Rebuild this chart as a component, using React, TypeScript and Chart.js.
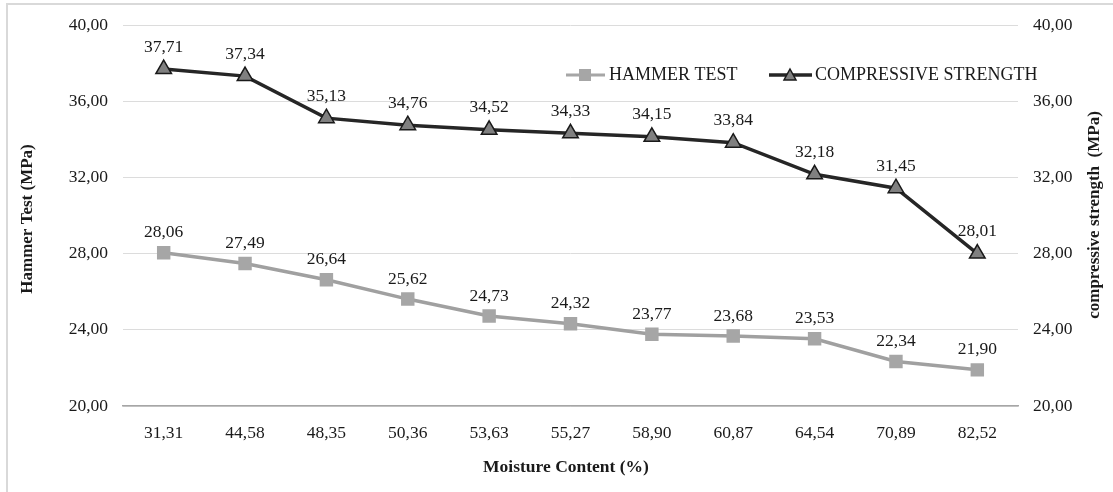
import React, { useEffect, useRef } from "react";
import { Chart, registerables } from "chart.js";

Chart.register(...registerables);

const categories = ["31,31", "44,58", "48,35", "50,36", "53,63", "55,27", "58,90", "60,87", "64,54", "70,89", "82,52"];
const hammerTest = [28.06, 27.49, 26.64, 25.62, 24.73, 24.32, 23.77, 23.68, 23.53, 22.34, 21.9];
const compressiveStrength = [37.71, 37.34, 35.13, 34.76, 34.52, 34.33, 34.15, 33.84, 32.18, 31.45, 28.01];
const yMin = 20;
const yMax = 40;
const yStep = 4;

const FONT = "'Liberation Serif', 'Times New Roman', serif";
const fmt = (v: number) => v.toFixed(2).replace(".", ",");

const extrasPlugin = {
  id: "extras",
  beforeDraw(chart: any) {
    const ctx = chart.ctx;
    ctx.save();
    ctx.strokeStyle = "#d9d9d9";
    ctx.lineWidth = 2;
    ctx.strokeRect(7, 4, 1200, 600);
    ctx.restore();
  },
  afterDatasetsDraw(chart: any) {
    const ctx = chart.ctx;
    ctx.save();
    ctx.fillStyle = "#1a1a1a";
    ctx.font = `17.5px ${FONT}`;
    ctx.textAlign = "center";
    ctx.textBaseline = "middle";
    chart.data.datasets.forEach((ds: any, di: number) => {
      const meta = chart.getDatasetMeta(di);
      meta.data.forEach((pt: any, i: number) => {
        const off = di === 0 ? 20 : 22;
        ctx.fillText(fmt(ds.data[i]), pt.x, pt.y - off);
      });
    });

    // axis titles
    ctx.font = `bold 17.5px ${FONT}`;
    ctx.fillText("Moisture Content (%)", 566, 467);
    ctx.font = `bold 17px ${FONT}`;
    ctx.save();
    ctx.translate(28, 219);
    ctx.rotate(-Math.PI / 2);
    ctx.fillText("Hammer Test (MPa)", 0, 0);
    ctx.restore();
    ctx.save();
    ctx.translate(1095, 215);
    ctx.rotate(-Math.PI / 2);
    ctx.fillText("compressive strength  (MPa)", 0, 0);
    ctx.restore();

    // legend
    const ly = 75;
    ctx.lineWidth = 3;
    ctx.strokeStyle = "#a6a6a6";
    ctx.beginPath();
    ctx.moveTo(566, ly);
    ctx.lineTo(605, ly);
    ctx.stroke();
    ctx.fillStyle = "#a6a6a6";
    ctx.fillRect(579, ly - 6, 12, 12);
    ctx.fillStyle = "#1a1a1a";
    ctx.font = `18px ${FONT}`;
    ctx.textAlign = "left";
    ctx.fillText("HAMMER TEST", 609, ly);

    ctx.lineWidth = 3.5;
    ctx.strokeStyle = "#262626";
    ctx.beginPath();
    ctx.moveTo(769, ly);
    ctx.lineTo(812, ly);
    ctx.stroke();
    ctx.fillStyle = "#808080";
    ctx.strokeStyle = "#1a1a1a";
    ctx.lineWidth = 1.5;
    ctx.beginPath();
    ctx.moveTo(790, ly - 6);
    ctx.lineTo(796, ly + 5);
    ctx.lineTo(784, ly + 5);
    ctx.closePath();
    ctx.fill();
    ctx.stroke();
    ctx.fillStyle = "#1a1a1a";
    ctx.fillText("COMPRESSIVE STRENGTH", 815, ly);
    ctx.restore();
  },
};

export default function App() {
  const ref = useRef<HTMLCanvasElement>(null);
  useEffect(() => {
    document.body.style.margin = "0";
    const chart = new Chart(ref.current!, {
      type: "line",
      data: {
        labels: categories,
        datasets: [
          {
            label: "HAMMER TEST",
            data: hammerTest,
            yAxisID: "y",
            borderColor: "#a0a0a0",
            borderWidth: 3.5,
            backgroundColor: "#a6a6a6",
            pointStyle: "rect",
            pointRadius: 9.5,
            pointBorderWidth: 0,
            pointBackgroundColor: "#a6a6a6",
            tension: 0,
          },
          {
            label: "COMPRESSIVE STRENGTH",
            data: compressiveStrength,
            yAxisID: "y1",
            borderColor: "#262626",
            borderWidth: 3.5,
            backgroundColor: "#808080",
            pointStyle: "triangle",
            pointRadius: 9,
            pointBorderWidth: 1.5,
            pointBorderColor: "#1a1a1a",
            pointBackgroundColor: "#808080",
            tension: 0,
          },
        ],
      },
      options: {
        animation: false,
        responsive: false,
        devicePixelRatio: 1,
        layout: { padding: { top: 24, bottom: 0, left: 0, right: 0 } },
        plugins: { legend: { display: false }, tooltip: { enabled: false } },
        scales: {
          x: {
            type: "category",
            offset: true,
            grid: { display: false, drawTicks: false },
            border: { display: true, color: "#a6a6a6", width: 1.5 },
            ticks: { padding: 17, color: "#1a1a1a", font: { family: FONT, size: 17.5 }, maxRotation: 0 },
            afterFit: (s: any) => { s.height = 86; },
          },
          y: {
            position: "left",
            min: yMin,
            max: yMax,
            grid: { color: "#dcdcdc", drawTicks: false, lineWidth: 1 },
            border: { display: false },
            ticks: { stepSize: yStep, padding: 15, color: "#1a1a1a", font: { family: FONT, size: 17.5 }, callback: (v: any) => fmt(Number(v)) },
            afterFit: (s: any) => { s.width = 123; },
          },
          y1: {
            position: "right",
            min: yMin,
            max: yMax,
            grid: { drawOnChartArea: false, drawTicks: false },
            border: { display: false },
            ticks: { stepSize: yStep, padding: 15, color: "#1a1a1a", font: { family: FONT, size: 17.5 }, callback: (v: any) => fmt(Number(v)) },
            afterFit: (s: any) => { s.width = 95; },
          },
        },
      },
      plugins: [extrasPlugin],
    } as any);
    return () => chart.destroy();
  }, []);
  return (
    <div style={{ width: 1113, height: 492, background: "#fff" }}>
      <canvas ref={ref} width={1113} height={492} style={{ display: "block" }} />
    </div>
  );
}
